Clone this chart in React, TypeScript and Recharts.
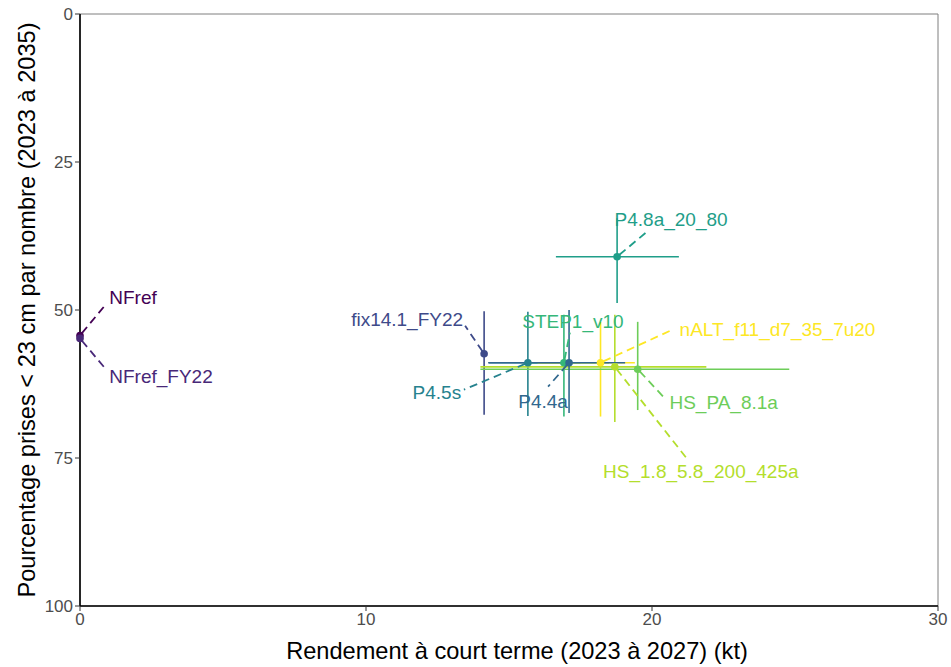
import React from 'react';
import {
  ScatterChart,
  Scatter,
  XAxis,
  YAxis,
  ErrorBar,
  ReferenceArea,
} from 'recharts';

// Scenario names and estimates
const NAMES = [
  'NFref',
  'NFref_FY22',
  'fix14.1_FY22',
  'P4.5s',
  'STEP1_v10',
  'nALT_f11_d7_35_7u20',
  'HS_1.8_5.8_200_425a',
  'HS_PA_8.1a',
  'P4.4a',
  'P4.8a_20_80',
];
const YIELD = [0, 0, 14.13, 15.66, 16.92, 18.2, 18.7, 19.5, 17.1, 18.78];
const YIELD_LOW = [0, 0, 14.13, 14.3, 15.5, 16.0, 14.0, 14.0, 14.27, 16.64];
const YIELD_HIGH = [0, 0, 14.13, 17.5, 18.5, 19.4, 21.9, 24.8, 19.06, 20.94];
const SMALL = [54.3, 54.8, 57.4, 58.9, 58.9, 58.9, 59.6, 60.0, 58.9, 41.0];
const SMALL_LOW = [54.3, 54.8, 50.2, 50.3, 50.8, 52.0, 50.8, 52.0, 50.0, 34.5];
const SMALL_HIGH = [54.3, 54.8, 67.7, 67.9, 68.0, 68.0, 68.9, 66.9, 67.4, 48.8];

const X_TICKS = [0, 10, 20, 30];
const Y_TICKS = [0, 25, 50, 75, 100];

// viridis palette, one colour per scenario
const COLORS: Record<string, string> = {
  NFref: '#440154',
  NFref_FY22: '#482878',
  'fix14.1_FY22': '#3E4A89',
  'P4.4a': '#31688E',
  'P4.5s': '#26828E',
  'P4.8a_20_80': '#1F9E89',
  STEP1_v10: '#35B779',
  'HS_PA_8.1a': '#6DCD59',
  'HS_1.8_5.8_200_425a': '#B4DE2C',
  nALT_f11_d7_35_7u20: '#FDE725',
};

// repelled label placement, pixel offsets from the point (t = text centre, e = segment end)
const LABEL_POS: Record<string, { t: [number, number]; e: [number, number] }> = {
  NFref: { t: [53, -38], e: [25, -30] },
  NFref_FY22: { t: [81, 38], e: [26, 31] },
  'fix14.1_FY22': { t: [-77, -34], e: [-19, -28] },
  'P4.5s': { t: [-91, 30], e: [-64, 27] },
  'P4.4a': { t: [-26, 39], e: [-21, 24] },
  STEP1_v10: { t: [9, -41], e: [6, -30] },
  'P4.8a_20_80': { t: [54, -37], e: [31, -26] },
  nALT_f11_d7_35_7u20: { t: [177, -33], e: [72, -33] },
  'HS_PA_8.1a': { t: [86, 33], e: [27, 29] },
  'HS_1.8_5.8_200_425a': { t: [86, 105], e: [73, 93] },
};

const FONT = '"Liberation Sans", Arial, sans-serif';

const rows = NAMES.map((name, i) => ({
  name,
  x: YIELD[i],
  y: SMALL[i],
  ex: [YIELD[i] - YIELD_LOW[i], YIELD_HIGH[i] - YIELD[i]],
  ey: [SMALL[i] - SMALL_LOW[i], SMALL_HIGH[i] - SMALL[i]],
}));

function PointShape(props: any) {
  const { cx, cy, payload } = props;
  return <circle cx={cx} cy={cy} r={3.8} fill={COLORS[payload.name]} />;
}

function LabelShape(props: any) {
  const { cx, cy, payload } = props;
  const pos = LABEL_POS[payload.name];
  const color = COLORS[payload.name];
  const [ex, ey] = pos.e;
  const len = Math.sqrt(ex * ex + ey * ey);
  const pad = 3;
  return (
    <g>
      <line
        x1={cx + (ex / len) * pad}
        y1={cy + (ey / len) * pad}
        x2={cx + ex}
        y2={cy + ey}
        stroke={color}
        strokeWidth={1.8}
        strokeDasharray="8 5"
      />
      <text
        x={cx + pos.t[0]}
        y={cy + pos.t[1]}
        textAnchor="middle"
        dominantBaseline="central"
        fill={color}
        fontSize={19}
        fontFamily={FONT}
      >
        {payload.name}
      </text>
    </g>
  );
}

export default function App() {
  return (
    <div style={{ position: 'absolute', left: 0, top: 0, background: '#fff' }}>
      <ScatterChart
        width={951}
        height={667}
        margin={{ top: 14, right: 13, bottom: 0, left: 0 }}
      >
        <ReferenceArea
          x1={0}
          x2={30}
          y1={0}
          y2={100}
          fill="none"
          stroke="#7F7F7F"
          strokeWidth={1}
        />
        <XAxis
          type="number"
          dataKey="x"
          domain={[0, 30]}
          ticks={X_TICKS}
          height={61}
          tickSize={5}
          tickMargin={2}
          tick={{ fontSize: 17, fill: '#4D4D4D', fontFamily: FONT }}
          tickLine={{ stroke: '#333' }}
          axisLine={{ stroke: '#000', strokeWidth: 1.6 }}
          label={{
            content: (p: any) => {
              const vb = p.viewBox;
              return (
                <text
                  x={vb.x + vb.width / 2 + 8}
                  y={vb.y + 53}
                  textAnchor="middle"
                  fontSize={23.6}
                  fontFamily={FONT}
                  fill="#000"
                >
                  Rendement à court terme (2023 à 2027) (kt)
                </text>
              );
            },
          }}
        />
        <YAxis
          type="number"
          dataKey="y"
          reversed
          domain={[0, 100]}
          ticks={Y_TICKS}
          width={80}
          tickSize={5}
          tickMargin={2}
          tick={{ fontSize: 17, fill: '#4D4D4D', fontFamily: FONT }}
          tickLine={{ stroke: '#333' }}
          axisLine={{ stroke: '#000', strokeWidth: 1.6 }}
          label={{
            content: (p: any) => {
              const vb = p.viewBox;
              const x = vb.x + 27;
              const y = vb.y + vb.height / 2;
              return (
                <text
                  x={x}
                  y={y}
                  transform={`rotate(-90 ${x} ${y})`}
                  textAnchor="middle"
                  dominantBaseline="central"
                  fontSize={23.6}
                  fontFamily={FONT}
                  fill="#000"
                >
                  Pourcentage prises &lt; 23 cm par nombre (2023 à 2035)
                </text>
              );
            },
          }}
        />
        {rows.map((r) => (
          <Scatter
            key={r.name}
            data={[r]}
            shape={<PointShape />}
            isAnimationActive={false}
          >
            <ErrorBar
              dataKey="ex"
              direction="x"
              width={0}
              stroke={COLORS[r.name]}
              strokeWidth={1.6}
              isAnimationActive={false}
            />
            <ErrorBar
              dataKey="ey"
              direction="y"
              width={0}
              stroke={COLORS[r.name]}
              strokeWidth={1.6}
              isAnimationActive={false}
            />
          </Scatter>
        ))}
        {/* repelled labels drawn last so they sit on top */}
        <Scatter data={rows} shape={<LabelShape />} isAnimationActive={false} />
      </ScatterChart>
    </div>
  );
}
